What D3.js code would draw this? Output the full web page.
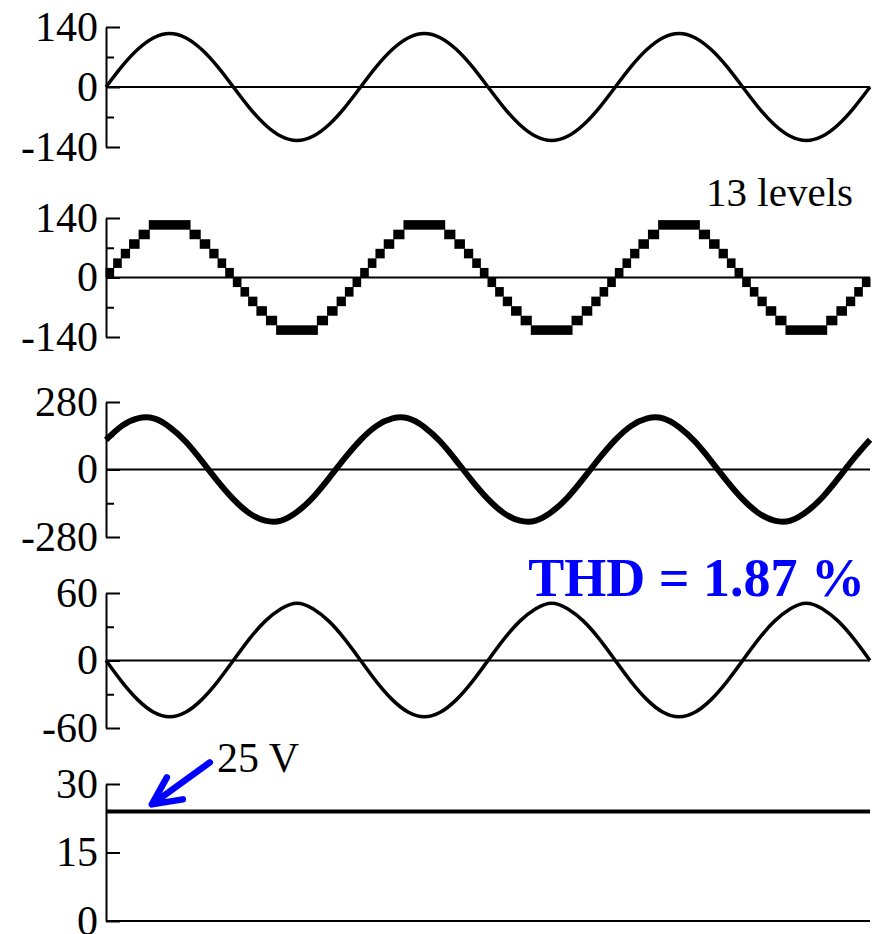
<!DOCTYPE html>
<html>
<head>
<meta charset="utf-8">
<script src="https://d3js.org/d3.v7.min.js"></script>
<style>
body { margin: 0; background: #fff; }
text { font-family: "Liberation Serif", "Times New Roman", serif; }
</style>
</head>
<body>
<svg width="877" height="934"></svg>
<script>
// time axis (ms), 3 cycles of 50 Hz, samples every 1.25 ms
var sampleStep = 1.25;
var tEnd = 60;

// panel 1 : output voltage (V)
var outV = [0,48,88,115,125,115,88,48,0,-48,-88,-115,-125,-115,-88,-48,
            0,48,88,115,125,115,88,48,0,-48,-88,-115,-125,-115,-88,-48,
            0,48,88,115,125,115,88,48,0,-48,-88,-115,-125,-115,-88,-48,0];

// panel 2 : 13-level staircase, band edges (ms) and lower level of each band
var stairStepV = 22.5;
var stairEdges = [0,0.6,1.2,1.85,2.6,3.4,6.6,7.4,8.15,8.8,9.4,
                  10,10.6,11.2,11.85,12.6,13.4,16.6,17.4,18.15,18.8,19.4,
                  20,20.6,21.2,21.85,22.6,23.4,26.6,27.4,28.15,28.8,29.4,
                  30,30.6,31.2,31.85,32.6,33.4,36.6,37.4,38.15,38.8,39.4,
                  40,40.6,41.2,41.85,42.6,43.4,46.6,47.4,48.15,48.8,49.4,
                  50,50.6,51.2,51.85,52.6,53.4,56.6,57.4,58.15,58.8,59.4,60];
var stairLow = [0,1,2,3,4,5,4,3,2,1,0,-1,-2,-3,-4,-5,-6,-5,-4,-3,-2,-1,
                0,1,2,3,4,5,4,3,2,1,0,-1,-2,-3,-4,-5,-6,-5,-4,-3,-2,-1,
                0,1,2,3,4,5,4,3,2,1,0,-1,-2,-3,-4,-5,-6,-5,-4,-3,-2,-1];

// panel 3 : phase voltage (V)
var phaseV = [123,181,212,212,176,116,37,-47,-123,-181,-212,-212,-176,-116,-37,47,
              123,181,212,212,176,116,37,-47,-123,-181,-212,-212,-176,-116,-37,47,
              123,181,212,212,176,116,37,-47,-123,-181,-212,-212,-176,-116,-37,47,123];

// panel 4 : current (A)
var curA = [0,-19,-35,-46,-50,-46,-35,-19,0,19,35,46,51,46,35,19,
            0,-19,-35,-46,-50,-46,-35,-19,0,19,35,46,51,46,35,19,
            0,-19,-35,-46,-50,-46,-35,-19,0,19,35,46,51,46,35,19,0];

// panel 5 : dc source (V)
var dcT = [0, 60];
var dcV = [24, 24];

// tick labels
var ticks1 = [-140, 0, 140], minor1 = [-70, 70];
var ticks2 = [-140, 0, 140], minor2 = [-70, 70];
var ticks3 = [-280, 0, 280], minor3 = [-140, 140];
var ticks4 = [-60, 0, 60],   minor4 = [-30, 30];
var ticks5 = [0, 15, 30];

var svg = d3.select("svg");
var x = d3.scaleLinear().domain([0, tEnd]).range([106, 870]);

var y1 = d3.scaleLinear().domain([-140, 140]).range([147, 27]);
var y2 = d3.scaleLinear().domain([-140, 140]).range([337, 218]);
var y3 = d3.scaleLinear().domain([-280, 280]).range([537, 402]);
var y4 = d3.scaleLinear().domain([-60, 60]).range([728, 593]);
var y5 = d3.scaleLinear().domain([0, 30]).range([921, 784]);

function drawAxis(y, ticks, minors) {
    var g = svg.append("g").attr("transform", "translate(106,0)")
        .call(d3.axisLeft(y).tickValues(ticks).tickFormat(function(d) { return String(d); })
            .tickSizeInner(-14).tickSizeOuter(0).tickPadding(8));
    g.attr("font-family", null).attr("font-size", null);
    g.selectAll("text").style("font-size", "42px").attr("fill", "#000");
    g.select(".domain").attr("stroke-width", 2);
    g.selectAll(".tick line").attr("stroke-width", 2);
    if (minors) {
        var m = svg.append("g").attr("transform", "translate(106,0)")
            .call(d3.axisLeft(y).tickValues(minors).tickFormat("").tickSizeInner(-8).tickSizeOuter(0));
        m.select(".domain").remove();
        m.selectAll(".tick line").attr("stroke-width", 2);
    }
    // zero line across the plot
    svg.append("line")
        .attr("x1", x(0)).attr("x2", x(tEnd))
        .attr("y1", y(0)).attr("y2", y(0))
        .attr("stroke", "#000").attr("stroke-width", 2);
}

function drawWave(y, vals, w) {
    var line = d3.line()
        .x(function(d, i) { return x(i * sampleStep); })
        .y(function(d) { return y(d); })
        .curve(d3.curveNatural);
    svg.append("path").datum(vals)
        .attr("d", line)
        .attr("fill", "none").attr("stroke", "#000")
        .attr("stroke-width", w).attr("stroke-linejoin", "round");
}

// panel 1
drawAxis(y1, ticks1, minor1);
drawWave(y1, outV, 3.5);

// panel 2
drawAxis(y2, ticks2, minor2);
svg.append("g").selectAll("rect").data(stairLow).enter().append("rect")
    .attr("x", function(d, i) { return x(stairEdges[i]) - 0.5; })
    .attr("width", function(d, i) { return x(stairEdges[i + 1]) - x(stairEdges[i]) + 1; })
    .attr("y", function(d) { return y2((d + 1) * stairStepV); })
    .attr("height", function(d) { return y2(d * stairStepV) - y2((d + 1) * stairStepV); })
    .attr("fill", "#000");

// panel 3
drawAxis(y3, ticks3, minor3);
drawWave(y3, phaseV, 6);

// panel 4
drawAxis(y4, ticks4, minor4);
drawWave(y4, curA, 3.5);

// panel 5
drawAxis(y5, ticks5, null);
svg.append("path").datum(dcV)
    .attr("d", d3.line().x(function(d, i) { return x(dcT[i]); }).y(function(d) { return y5(d); }))
    .attr("fill", "none").attr("stroke", "#000").attr("stroke-width", 4);

// annotations
svg.append("text").text("13 levels")
    .attr("x", 853).attr("y", 206).attr("text-anchor", "end")
    .style("font-size", "41px");

svg.append("text").text("THD = 1.87 %")
    .attr("x", 865).attr("y", 596).attr("text-anchor", "end")
    .style("font-size", "54px").style("font-weight", "bold").attr("fill", "#0000ff");

svg.append("text").text("25 V")
    .attr("x", 217).attr("y", 772)
    .style("font-size", "42px");

var tipX = x(3.6), tipY = y5(dcV[0]) - 7;
svg.append("path")
    .attr("d", "M" + (tipX + 58) + "," + (tipY - 42) + "L" + tipX + "," + tipY +
               "M" + (tipX + 15) + "," + (tipY - 27) + "L" + tipX + "," + tipY + "L" + (tipX + 31) + "," + (tipY - 5))
    .attr("fill", "none").attr("stroke", "#0000ff").attr("stroke-width", 6.5)
    .attr("stroke-linecap", "round").attr("stroke-linejoin", "round");
</script>
</body>
</html>
